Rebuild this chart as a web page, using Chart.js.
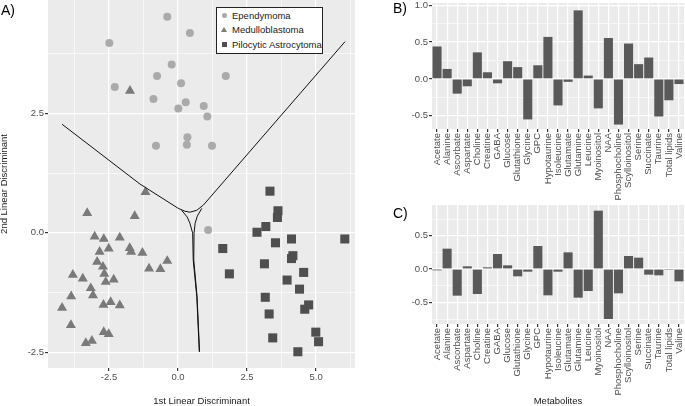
<!DOCTYPE html>
<html>
<head>
<meta charset="utf-8">
<script src="https://cdn.jsdelivr.net/npm/chart.js@4.4.0/dist/chart.umd.min.js"></script>
<style>
  body { margin: 0; width: 685px; height: 406px; overflow: hidden; position: relative; background: #fff;
         font-family: "Liberation Sans", Arial, sans-serif; }
  canvas { position: absolute; }
  .tag { position: absolute; font-size: 14px; line-height: 14px; color: #000; }
  .lg { position: absolute; font-size: 9.5px; line-height: 11px; color: #1a1a1a; white-space: nowrap; }
  #legendBox { position: absolute; left: 216px; top: 7px; width: 105px; height: 45px; border: 1px solid #222; background: #fff; }
</style>
</head>
<body>
<canvas id="ldaChart" width="360" height="406" style="left:0;top:0"></canvas>
<canvas id="coefB" width="295" height="200" style="left:390px;top:0"></canvas>
<canvas id="coefC" width="295" height="206" style="left:390px;top:200px"></canvas>

<div class="tag" style="left:1px;top:3px">A)</div>
<div class="tag" style="left:393px;top:1px">B)</div>
<div class="tag" style="left:393px;top:206px">C)</div>

<div id="legendBox"></div>
<div style="position:absolute;left:222px;top:13px;width:4.5px;height:4.5px;border-radius:50%;background:#aaaaaa"></div>
<div style="position:absolute;left:221px;top:27px;width:0;height:0;border-left:3px solid transparent;border-right:3px solid transparent;border-bottom:5px solid #7a7a7a"></div>
<div style="position:absolute;left:221.5px;top:41.5px;width:5px;height:5px;background:#4f4f4f"></div>
<div class="lg" style="left:232px;top:9.5px">Ependymoma</div>
<div class="lg" style="left:232px;top:24px">Medulloblastoma</div>
<div class="lg" style="left:232px;top:38.5px">Pilocytic Astrocytoma</div>

<script>
/* ── data ─────────────────────────────────────────────────────────── */

// A) LDA scores
const EPEN_X = [-0.39, 0.43, -2.49, -0.23, -0.76, 1.73, -2.29, 0.11, -0.89, 0.28, 0.01, 0.93, 1.06, 0.34, -0.80, 0.32, 1.23, 1.09];
const EPEN_Y = [4.52, 4.18, 3.97, 3.52, 3.28, 3.28, 3.05, 3.13, 2.80, 2.73, 2.60, 2.65, 2.43, 2.00, 1.82, 1.84, 1.82, 0.06];

const MEDU_X = [-1.74, -1.18, -3.29, -1.57, -3.02, -2.69, -2.11, -2.84, -2.51, -1.75, -1.70, -1.29, -2.93, -2.72, -2.67,
                -3.81, -3.45, -2.62, -2.33, -1.05, -0.64, -0.39, -3.16, -3.08, -3.87, -4.20, -2.70, -2.44, -2.11, -3.88,
                -2.69, -2.51, -3.34, -3.12];
const MEDU_Y = [2.97, 0.85, 0.41, 0.35, -0.08, -0.13, -0.10, -0.40, -0.33, -0.32, -0.40, -0.42, -0.61, -0.71, -0.86,
                -0.88, -0.96, -1.03, -0.98, -0.75, -0.76, -0.59, -1.16, -1.31, -1.33, -1.57, -1.51, -1.45, -1.52, -1.93,
                -2.08, -2.12, -2.31, -2.26];

const PILO_X = [3.33, 3.62, 3.60, 3.18, 2.86, 4.11, 6.04, 3.53, 1.62, 4.16, 4.11, 3.13, 1.86, 4.55, 3.95, 4.40,
                3.16, 4.73, 4.59, 3.30, 4.99, 5.09, 3.43, 4.34];
const PILO_Y = [0.87, 0.46, 0.32, 0.13, 0.01, -0.13, -0.13, -0.21, -0.33, -0.48, -0.54, -0.65, -0.86, -0.83, -0.99, -1.18,
                -1.35, -1.51, -1.60, -1.70, -2.08, -2.28, -2.20, -2.49];

// decision boundaries
const BND_TOP_X = [-4.20, -1.38, 0.01, 0.25, 0.43, 0.68, 0.92, 1.70, 6.05];
const BND_TOP_Y = [2.27, 1.02, 0.51, 0.45, 0.43, 0.47, 0.58, 1.10, 4.00];
const BND_LEFT_X = [0.13, 0.33, 0.43, 0.53, 0.55, 0.68, 0.77];
const BND_LEFT_Y = [0.47, 0.33, 0.20, -0.01, -0.57, -1.34, -2.49];
const BND_RIGHT_X = [0.86, 0.70, 0.62, 0.58, 0.57, 0.69, 0.78];
const BND_RIGHT_Y = [0.51, 0.35, 0.20, -0.01, -0.57, -1.34, -2.49];

const LD_TICKS_X = [-3.75, -2.5, -1.25, 0, 1.25, 2.5, 3.75, 5, 6.25];
const LD_TICKS_Y = [-2.5, -1.25, 0, 1.25, 2.5, 3.75];

// B) / C) coefficients
const METABOLITES = ['Acetate', 'Alanine', 'Ascorbate', 'Aspartate', 'Choline', 'Creatine', 'GABA', 'Glucose',
  'Glutathione', 'Glycine', 'GPC', 'Hypotaurine', 'Isoleucine', 'Glutamate', 'Glutamine', 'Leucine', 'Myoinositol',
  'NAA', 'Phosphocholine', 'Scylloinositol', 'Serine', 'Succinate', 'Taurine', 'Total lipids', 'Valine'];

const COEF_B = [0.44, 0.135, -0.20, -0.10, 0.36, 0.09, -0.06, 0.24, 0.16, -0.55, 0.185, 0.57, -0.36, -0.04, 0.93,
                0.045, -0.40, 0.555, -0.62, 0.48, 0.20, 0.29, -0.51, -0.29, -0.07];
const COEF_C = [-0.02, 0.305, -0.40, 0.04, -0.375, 0.025, 0.225, 0.055, -0.11, -0.04, 0.345, -0.395, -0.04, 0.25,
                -0.43, -0.33, 0.875, -0.75, -0.365, 0.195, 0.17, -0.085, -0.095, -0.015, -0.185];

const TICKS_B = [-0.5, -0.25, 0, 0.25, 0.5, 0.75, 1.0];
const TICKS_C = [-0.75, -0.5, -0.25, 0, 0.25, 0.5, 0.75];

/* ── helpers ──────────────────────────────────────────────────────── */

Chart.defaults.font.family = '"Liberation Sans", Arial, sans-serif';
Chart.defaults.font.size = 9.5;
Chart.defaults.animation = false;

const TEXT_GREY = '#4d4d4d';
const pts = (xs, ys) => xs.map((x, i) => ({ x, y: ys[i] }));
const isMajor = (v, step) => Math.abs(v / step - Math.round(v / step)) < 1e-6;

// fixed box size, and no extra room for overhanging tick labels
function fixSize(prop, px) {
  return s => {
    s[prop] = px;
    s.paddingTop = 0; s.paddingBottom = 0; s.paddingLeft = 0; s.paddingRight = 0;
  };
}

const panelBg = {
  id: 'panelBg',
  beforeDraw(chart) {
    const { ctx, chartArea: a } = chart;
    ctx.save();
    ctx.fillStyle = '#ebebeb';
    ctx.fillRect(a.left, a.top, a.right - a.left, a.bottom - a.top);
    ctx.restore();
  }
};

function linAxis(min, max, ticks, step, extra) {
  return {
    type: 'linear',
    min, max,
    afterBuildTicks: s => { s.ticks = ticks.map(v => ({ value: v })); },
    border: { display: false },
    grid: {
      color: '#ffffff',
      lineWidth: c => (c.tick && isMajor(c.tick.value, step)) ? 1.2 : 0.6,
      tickColor: c => (c.tick && isMajor(c.tick.value, step)) ? '#333333' : 'rgba(0,0,0,0)',
      tickLength: 3,
    },
    ticks: {
      autoSkip: false, maxRotation: 0, padding: 1, color: TEXT_GREY,
      callback: v => isMajor(v, step) ? v.toFixed(1) : '',
    },
    ...extra,
  };
}

function axisTitle(text) {
  return { display: true, text, color: '#1a1a1a', font: { size: 9.5, lineHeight: 1 }, padding: 0 };
}

function lineSet(xs, ys) {
  return { data: pts(xs, ys), showLine: true, borderColor: '#111111', borderWidth: 1,
           pointRadius: 0, pointHoverRadius: 0, fill: false };
}

/* ── A) LDA scatter ───────────────────────────────────────────────── */

new Chart(document.getElementById('ldaChart'), {
  type: 'scatter',
  data: {
    datasets: [
      lineSet(BND_TOP_X, BND_TOP_Y),
      lineSet(BND_LEFT_X, BND_LEFT_Y),
      lineSet(BND_RIGHT_X, BND_RIGHT_Y),
      { label: 'Ependymoma', data: pts(EPEN_X, EPEN_Y), pointStyle: 'circle', pointRadius: 4,
        backgroundColor: '#aaaaaa', borderWidth: 0 },
      { label: 'Medulloblastoma', data: pts(MEDU_X, MEDU_Y), pointStyle: 'triangle', pointRadius: 5.8,
        backgroundColor: '#7a7a7a', borderWidth: 0 },
      { label: 'Pilocytic Astrocytoma', data: pts(PILO_X, PILO_Y), pointStyle: 'rect', pointRadius: 6.4,
        backgroundColor: '#4f4f4f', borderWidth: 0 },
    ]
  },
  options: {
    responsive: false,
    layout: { autoPadding: false, padding: { top: 0, right: 5, bottom: 0, left: 0 } },
    plugins: { legend: { display: false }, tooltip: { enabled: false } },
    scales: {
      x: linAxis(-4.71, 6.41, LD_TICKS_X, 2.5, {
        afterFit: fixSize('height', 38),
        title: axisTitle('1st Linear Discriminant'),
      }),
      y: linAxis(-2.83, 4.87, LD_TICKS_Y, 2.5, {
        afterFit: fixSize('width', 48),
        title: axisTitle('2nd Linear Discriminant'),
      }),
    }
  },
  plugins: [panelBg],
});

/* ── B) / C) coefficient bars ─────────────────────────────────────── */

function coefChart(id, values, yMin, yMax, yTicks, topPad, xHeight, xTitle) {
  new Chart(document.getElementById(id), {
    type: 'bar',
    data: {
      labels: METABOLITES,
      datasets: [{
        data: values,
        backgroundColor: '#595959',
        borderWidth: 0,
        barPercentage: 0.9,
        categoryPercentage: 1,
      }]
    },
    options: {
      responsive: false,
      layout: { autoPadding: false, padding: { top: topPad, right: 1, bottom: 0, left: 0 } },
      plugins: { legend: { display: false }, tooltip: { enabled: false } },
      scales: {
        x: {
          afterFit: fixSize('height', xHeight),
          border: { display: false },
          grid: { offset: false, color: '#ffffff', lineWidth: 1.2, tickColor: '#333333', tickLength: 3 },
          ticks: { autoSkip: false, minRotation: 90, maxRotation: 90, padding: 1, color: TEXT_GREY },
          title: xTitle ? axisTitle(xTitle) : { display: false },
        },
        y: linAxis(yMin, yMax, yTicks, 0.5, {
          afterFit: fixSize('width', 42),
        }),
      }
    },
    plugins: [panelBg],
  });
}

coefChart('coefB', COEF_B, -0.68, 1.03, TICKS_B, 3, 71, null);
coefChart('coefC', COEF_C, -0.825, 0.96, TICKS_C, 5, 82, 'Metabolites');
</script>
</body>
</html>
